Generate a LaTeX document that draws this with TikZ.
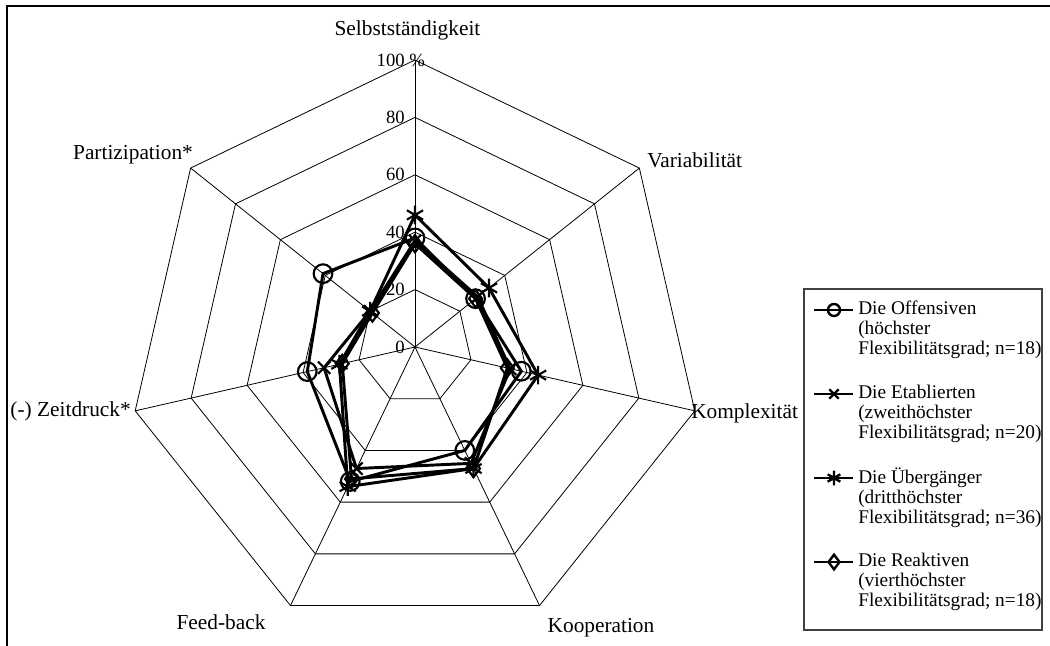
\documentclass[tikz,border=0pt]{standalone}
\usepackage{fontspec}
\setmainfont{Liberation Serif}
\usetikzlibrary{plotmarks}

\begin{document}
\begin{tikzpicture}[x=0.75pt,y=0.75pt,
    grid line/.style={line width=0.6pt},
    series/.style={line width=2.2pt, line join=miter},
    axis label/.style={font=\fontsize{16}{18}\selectfont, inner sep=0pt},
    scale label/.style={font=\fontsize{14}{16}\selectfont, anchor=east, inner sep=0pt},
    legend text/.style={font=\fontsize{14.5}{15}\selectfont, align=left, anchor=west, inner sep=0pt}]

  % --------- knobs ----------
  \def\R{287}      % radius of the 100 % ring
  \def\u{2.87}     % radius per percent
  \def\A{51.4286}  % 360/7
  % --------------------------

  \useasboundingbox (-415,-299) rectangle (635,347);

  % frame (top and left edge)
  \draw[line width=1.5pt] (-408,-299) -- (-408,341) -- (635,341);

  % ============== Grid =================
  \foreach \p in {20,40,...,100}
    \draw[grid line] (90:\p*\u) -- (90-\A:\p*\u) -- (90-2*\A:\p*\u) -- (90-3*\A:\p*\u)
      -- (90-4*\A:\p*\u) -- (90-5*\A:\p*\u) -- (90-6*\A:\p*\u) -- cycle;
  \foreach \k in {0,...,6}
    \draw[grid line] (0,0) -- (90-\k*\A:\R);

  % scale
  \foreach \p in {0,20,40,60,80}
    \node[scale label] (s\p) at (-10,\p*\u) {\p};
  \node[scale label] (s100) at (-10,\R) {100\rlap{ \%}};

  % axis labels
  \node[axis label] (selb) at (-7.5,317) {Selbstständigkeit};
  \node[axis label, anchor=west] (vari) at (232,187) {Variabilität};
  \node[axis label, anchor=west] (komp) at (276,-66) {Komplexität};
  \node[axis label] (koop) at (186,-281) {Kooperation};
  \node[axis label] (feed) at (-194,-275) {Feed-back};
  \node[axis label, anchor=east] (zeit) at (-284,-64) {(-) Zeitdruck*};
  \node[axis label] (part) at (-282,192) {Partizipation*};

  % ============== Series =================
  % Die Offensiven
  \draw[series] plot[mark=o, mark size=7pt, mark options={line width=1.6pt}] coordinates {
    (90:38*\u) (90-\A:27*\u) (90-2*\A:38*\u) (90-3*\A:40*\u)
    (90-4*\A:52*\u) (90-5*\A:38.5*\u) (90-6*\A:41*\u)} -- cycle;

  % Die Etablierten
  \draw[series] plot[mark=x, mark size=6.5pt, mark options={line width=1.6pt}] coordinates {
    (90:37*\u) (90-\A:28*\u) (90-2*\A:34*\u) (90-3*\A:45*\u)
    (90-4*\A:47*\u) (90-5*\A:32.5*\u) (90-6*\A:20*\u)} -- cycle;

  % Die Uebergaenger
  \draw[series] plot[mark=asterisk, mark size=7pt, mark options={line width=1.6pt}] coordinates {
    (90:46*\u) (90-\A:33*\u) (90-2*\A:44*\u) (90-3*\A:47*\u)
    (90-4*\A:54*\u) (90-5*\A:27*\u) (90-6*\A:20*\u)} -- cycle;

  % Die Reaktiven
  \draw[series] plot[mark=diamond, mark size=6.5pt, mark options={line width=1.6pt}] coordinates {
    (90:36*\u) (90-\A:27*\u) (90-2*\A:33*\u) (90-3*\A:47*\u)
    (90-4*\A:51*\u) (90-5*\A:26*\u) (90-6*\A:19*\u)} -- cycle;

  % ============== Legend =================
  \draw[line width=0.8pt, black!75] (389,58) rectangle (627,-283);

  \draw[series] (399,37) -- (438,37);
  \path plot[mark=o, mark size=4.5pt, mark options={line width=1.8pt}] coordinates {(419,37)};
  \node[legend text] (leg1) at (443,17) {Die Offensiven\\(höchster\\Flexibilitätsgrad; n=18)};

  \draw[series] (399,-47) -- (438,-47);
  \path plot[mark=x, mark size=5pt, mark options={line width=1.8pt}] coordinates {(419,-47)};
  \node[legend text] (leg2) at (443,-67) {Die Etablierten\\(zweithöchster\\Flexibilitätsgrad; n=20)};

  \draw[series] (399,-131) -- (438,-131);
  \path plot[mark=asterisk, mark size=5.5pt, mark options={line width=1.8pt}] coordinates {(419,-131)};
  \node[legend text] (leg3) at (443,-151) {Die Übergänger\\(dritthöchster\\Flexibilitätsgrad; n=36)};

  \draw[series] (399,-215) -- (438,-215);
  \path plot[mark=diamond, mark size=5.5pt, mark options={line width=1.8pt, fill=white}] coordinates {(419,-215)};
  \node[legend text] (leg4) at (443,-235) {Die Reaktiven\\(vierthöchster\\Flexibilitätsgrad; n=18)};

\end{tikzpicture}
\end{document}
